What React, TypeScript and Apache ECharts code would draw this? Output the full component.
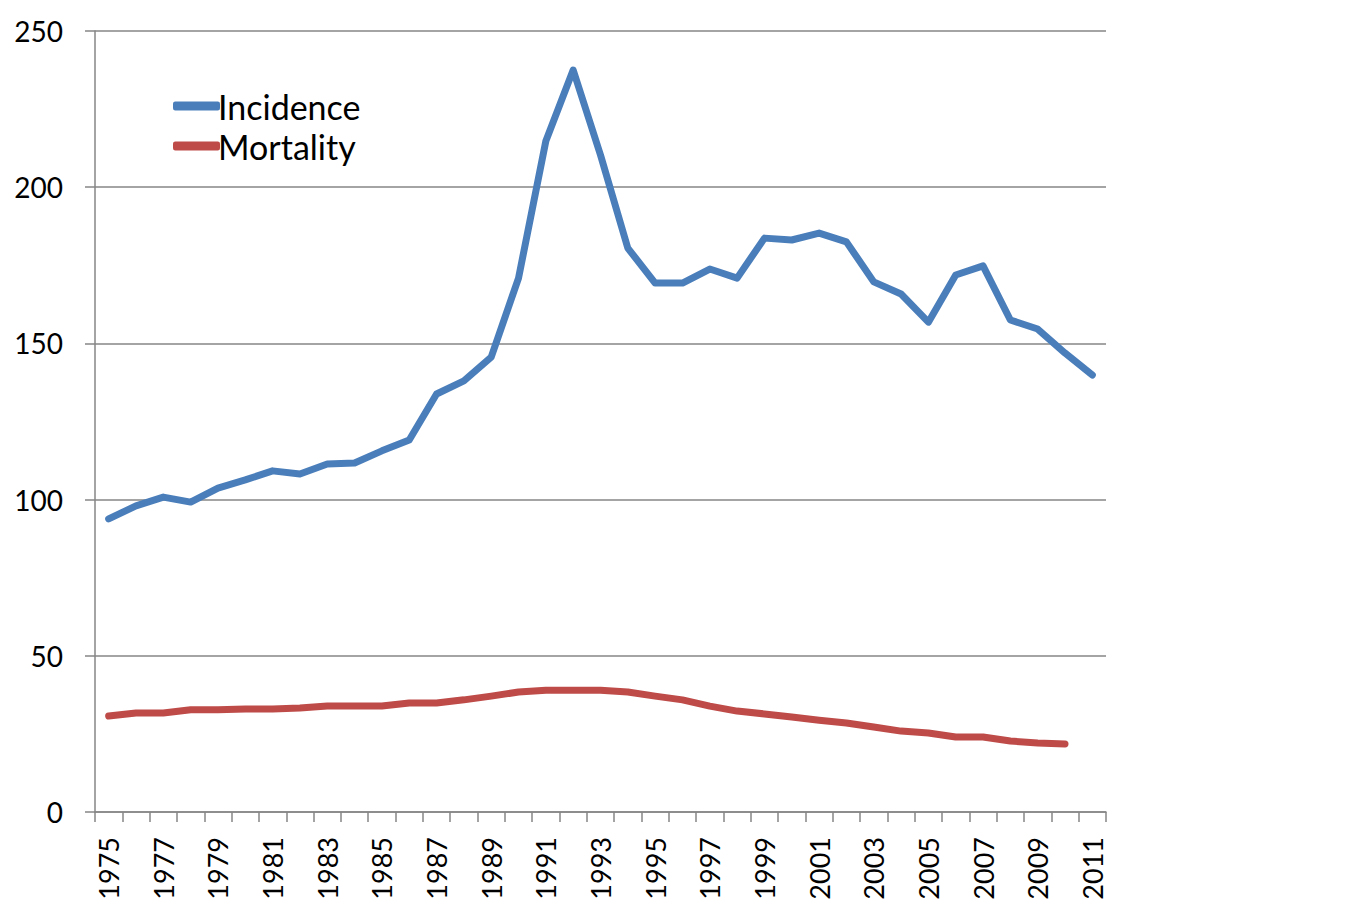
import React, { useEffect, useRef } from "react";
import * as echarts from "echarts";

const years: string[] = [];
for (let y = 1975; y <= 2011; y++) years.push(String(y));

const incidence = [
  93.8, 98, 100.8, 99.2, 103.7, 106.3, 109.2, 108.2, 111.4, 111.7, 115.6, 119.1,
  133.8, 138, 145.6, 170.9, 214.8, 237.5, 210.3, 180.5, 169.3, 169.3, 173.8, 170.9,
  183.7, 183.1, 185.3, 182.5, 169.7, 165.8, 156.8, 171.9, 174.8, 157.5, 154.6, 146.9, 139.9,
];

const mortality: (number | null)[] = [
  30.7, 31.7, 31.7, 32.7, 32.7, 33, 33, 33.3, 33.9, 33.9, 33.9, 34.9,
  34.9, 35.9, 37.1, 38.4, 39, 39, 39, 38.4, 37.1, 35.9, 33.9, 32.3,
  31.4, 30.4, 29.4, 28.5, 27.2, 25.9, 25.3, 24, 24, 22.7, 22.1, 21.8, null,
];

const yTicks = [0, 50, 100, 150, 200, 250];

export default function App() {
  const ref = useRef<HTMLDivElement>(null);
  useEffect(() => {
    if (!ref.current) return;
    const chart = echarts.init(ref.current, undefined, { renderer: "svg" });
    const gray = "#868686";
    const font = "Lato, 'Open Sans', sans-serif";
    chart.setOption({
      animation: false,
      textStyle: { fontFamily: font },
      grid: { left: 95, right: 244, top: 31, bottom: 103 },
      legend: {
        orient: "vertical",
        left: 168,
        top: 84,
        itemGap: 6,
        itemWidth: 47,
        itemHeight: 9,
        icon: "roundRect",
        textStyle: { fontSize: 34, color: "#000", fontFamily: font, padding: [0, 0, 0, -7] },
        data: ["Incidence", "Mortality"],
      },
      xAxis: {
        type: "category",
        data: years,
        boundaryGap: true,
        axisLine: { lineStyle: { color: gray, width: 1.5 } },
        axisTick: { show: true, interval: 0, length: 10, lineStyle: { color: gray, width: 1.5 } },
        axisLabel: {
          interval: 1,
          rotate: 90,
          margin: 25,
          fontSize: 27,
          color: "#000",
          fontFamily: font,
        },
      },
      yAxis: {
        type: "value",
        min: yTicks[0],
        max: yTicks[yTicks.length - 1],
        interval: 50,
        axisLine: { show: true, lineStyle: { color: gray, width: 1.5 } },
        axisTick: { show: true, length: 10, lineStyle: { color: gray, width: 1.5 } },
        splitLine: { show: true, lineStyle: { color: gray, width: 1.5 } },
        axisLabel: { fontSize: 28, color: "#000", margin: 32, fontFamily: font },
      },
      series: [
        {
          name: "Incidence",
          type: "line",
          data: incidence,
          symbol: "none",
          color: "#4A7EBB",
          lineStyle: { width: 7, color: "#4A7EBB", cap: "round", join: "round" },
        },
        {
          name: "Mortality",
          type: "line",
          data: mortality,
          symbol: "none",
          color: "#BE4B48",
          lineStyle: { width: 7, color: "#BE4B48", cap: "round", join: "round" },
        },
      ],
    });
    return () => chart.dispose();
  }, []);
  return <div ref={ref} style={{ width: 1350, height: 915, position: "absolute", left: 0, top: 0 }} />;
}
